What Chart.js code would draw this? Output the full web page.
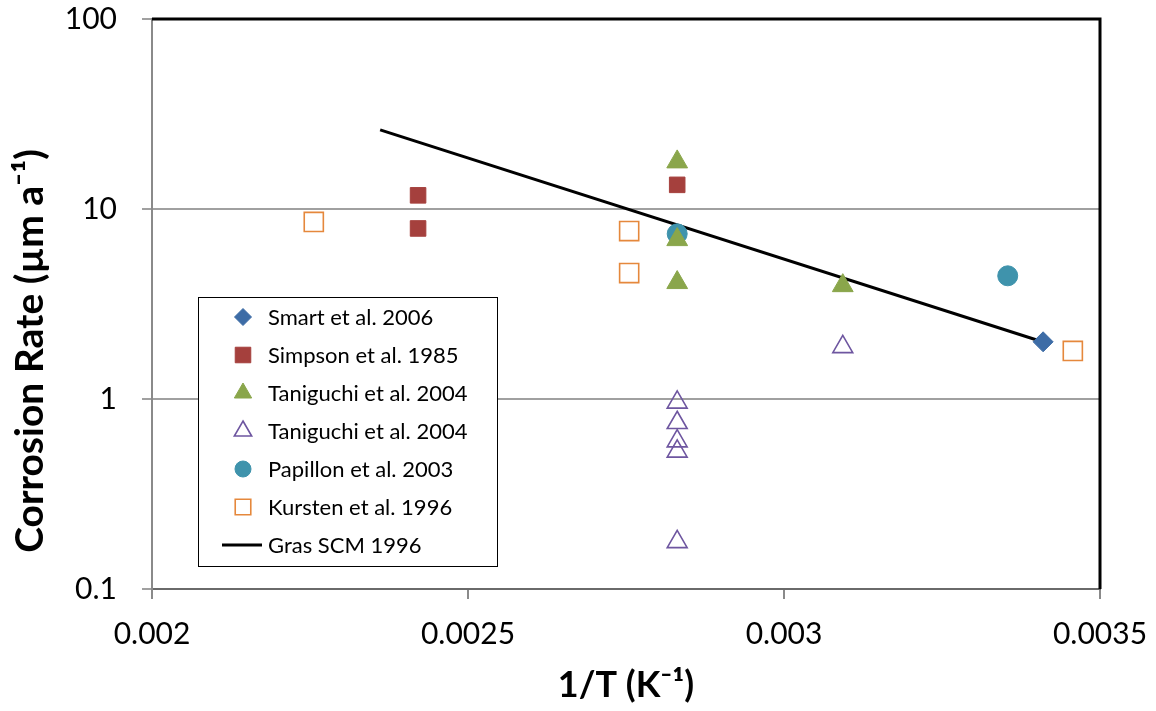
<!DOCTYPE html>
<html><head><meta charset="utf-8">
<script src="https://cdn.jsdelivr.net/npm/chart.js@4/dist/chart.umd.min.js"></script>
<style>html,body{margin:0;padding:0;background:#fff}#wrap{width:1156px;height:711px}</style>
</head><body><div id="wrap"><canvas id="c" width="1156" height="711"></canvas></div>
<script>
const smartX = [0.00341];
const smartY = [2.0];
const simpsonX = [0.002421, 0.002421, 0.002831];
const simpsonY = [11.8, 7.9, 13.4];
const taniFilledX = [0.002831, 0.002831, 0.002831, 0.003093];
const taniFilledY = [17.7, 6.9, 4.1, 3.95];
const taniOpenX = [0.002831, 0.002831, 0.002831, 0.002831, 0.002831, 0.003093];
const taniOpenY = [0.96, 0.75, 0.60, 0.53, 0.177, 1.88];
const papillonX = [0.002831, 0.003354];
const papillonY = [7.4, 4.45];
const kurstenX = [0.002256, 0.002755, 0.002755, 0.003457];
const kurstenY = [8.55, 7.65, 4.6, 1.79];
const grasX = [0.002361, 0.003405];
const grasY = [26.1, 2.02];
const yTicks = [0.1, 1, 10, 100];
const yTickLabels = ['0.1', '1', '10', '100'];
const xTicks = [0.002, 0.0025, 0.003, 0.0035];
const xTickLabels = ['0.002', '0.0025', '0.003', '0.0035'];
const seriesLabels = ['Smart et al. 2006', 'Simpson et al. 1985', 'Taniguchi et al. 2004', 'Taniguchi et al. 2004', 'Papillon et al. 2003', 'Kursten et al. 1996', 'Gras SCM 1996'];
const yTitle = 'Corrosion Rate (\u00B5m a\u207B\u00B9)';
const xTitle = '1/T (K\u207B\u00B9)';

const pts = (xs, ys) => xs.map((x, i) => ({x: x, y: ys[i]}));
const FONT = 'Lato, "Liberation Sans", sans-serif';

const datasets = [
  {label: seriesLabels[0], data: pts(smartX, smartY), pointStyle: 'rectRot', pointRadius: 10, backgroundColor: '#3D6CA6', borderColor: '#3D6CA6', borderWidth: 1, legendRadius: 8.5},
  {label: seriesLabels[1], data: pts(simpsonX, simpsonY), pointStyle: 'rect', pointRadius: 11, backgroundColor: '#A5403D', borderColor: '#A5403D', borderWidth: 1, legendRadius: 11},
  {label: seriesLabels[2], data: pts(taniFilledX, taniFilledY), pointStyle: 'triangle', pointRadius: 12, backgroundColor: '#8AA64B', borderColor: '#8AA64B', borderWidth: 1, legendRadius: 10},
  {label: seriesLabels[3], data: pts(taniOpenX, taniOpenY), pointStyle: 'triangle', pointRadius: 11.5, backgroundColor: 'rgba(0,0,0,0)', borderColor: '#6E56A0', borderWidth: 1.6, legendRadius: 10},
  {label: seriesLabels[4], data: pts(papillonX, papillonY), pointStyle: 'circle', pointRadius: 10, backgroundColor: '#3F93AC', borderColor: '#3F93AC', borderWidth: 1, legendRadius: 8},
  {label: seriesLabels[5], data: pts(kurstenX, kurstenY), pointStyle: 'rect', pointRadius: 13.5, backgroundColor: 'rgba(0,0,0,0)', borderColor: '#E5883C', borderWidth: 1.6, legendRadius: 11},
  {label: seriesLabels[6], data: pts(grasX, grasY), showLine: true, pointRadius: 0, borderColor: '#000', borderWidth: 3, backgroundColor: '#000', isLine: true}
];

const framePlugin = {
  id: 'frame',
  afterDatasetsDraw(chart) {
    const {ctx, chartArea: a} = chart;
    ctx.save();
    ctx.strokeStyle = '#000';
    ctx.lineWidth = 3;
    ctx.beginPath();
    ctx.moveTo(a.left, a.top);
    ctx.lineTo(a.right, a.top);
    ctx.lineTo(a.right, a.bottom);
    ctx.stroke();
    ctx.restore();
  },
  afterDraw(chart) {
    const ctx = chart.ctx;
    // y-axis title
    ctx.save();
    ctx.translate(30, 351);
    ctx.rotate(-Math.PI / 2);
    ctx.font = 'bold 39px ' + FONT;
    ctx.fillStyle = '#000';
    ctx.textAlign = 'center';
    ctx.textBaseline = 'middle';
    ctx.fillText(yTitle, 0, 0);
    ctx.restore();
    // legend
    const L = 198, T = 297, W = 299, H = 269;
    ctx.save();
    ctx.fillStyle = '#fff';
    ctx.fillRect(L, T, W, H);
    ctx.strokeStyle = '#000';
    ctx.lineWidth = 1;
    ctx.strokeRect(L + 0.5, T + 0.5, W, H);
    ctx.font = '22px ' + FONT;
    ctx.textBaseline = 'middle';
    ctx.fillStyle = '#000';
    chart.data.datasets.forEach((ds, i) => {
      const y = T + 20 + i * 38;
      if (ds.isLine) {
        ctx.strokeStyle = '#000';
        ctx.lineWidth = 3;
        ctx.beginPath();
        ctx.moveTo(222, y);
        ctx.lineTo(262, y);
        ctx.stroke();
      } else {
        ctx.fillStyle = ds.backgroundColor;
        ctx.strokeStyle = ds.borderColor;
        ctx.lineWidth = ds.borderWidth;
        Chart.helpers.drawPoint(ctx, {pointStyle: ds.pointStyle, radius: ds.legendRadius, rotation: 0, borderWidth: ds.borderWidth}, 243, y);
      }
      ctx.fillStyle = '#000';
      ctx.fillText(ds.label, 268, y + 1);
    });
    ctx.restore();
  }
};

new Chart(document.getElementById('c'), {
  type: 'scatter',
  data: {datasets: datasets},
  plugins: [framePlugin],
  options: {
    responsive: false,
    animation: false,
    layout: {padding: {top: 19, right: 56, left: 0, bottom: 0}},
    plugins: {legend: {display: false}, tooltip: {enabled: false}},
    scales: {
      x: {
        type: 'linear', min: 0.002, max: 0.0035,
        afterBuildTicks: s => { s.ticks = xTicks.map(v => ({value: v})); },
        afterFit: s => { s.height = 122; s.paddingLeft = 0; s.paddingRight = 0; },
        ticks: {callback: (v, i) => xTickLabels[i], color: '#000', font: {family: FONT, size: 30}, padding: 17, maxRotation: 0},
        grid: {drawOnChartArea: false, drawTicks: true, tickLength: 10, color: '#8a8a8a', lineWidth: 2},
        border: {color: '#6a6a6a', width: 2},
        title: {display: true, text: xTitle, color: '#000', font: {family: FONT, size: 36, weight: 'bold'}, padding: {top: 0}}
      },
      y: {
        type: 'logarithmic', min: 0.1, max: 100,
        afterBuildTicks: s => { s.ticks = yTicks.map(v => ({value: v})); },
        afterFit: s => { s.width = 152; s.paddingTop = 0; s.paddingBottom = 0; },
        ticks: {callback: (v, i) => yTickLabels[i], color: '#000', font: {family: FONT, size: 30}, padding: 25},
        grid: {color: '#a0a0a0', lineWidth: 2, tickLength: 10},
        border: {color: '#8a8a8a', width: 2},
        title: {display: false}
      }
    }
  }
});
</script>
</body></html>
